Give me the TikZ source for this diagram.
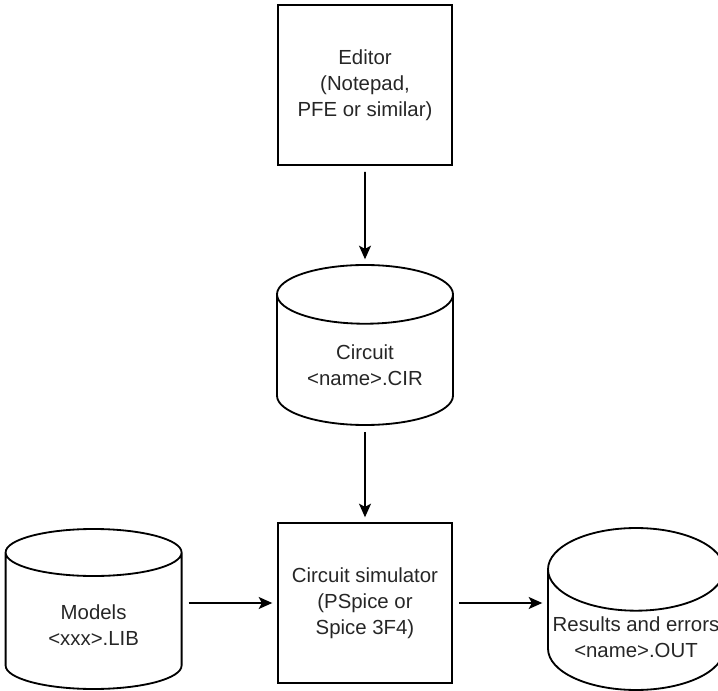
\documentclass[tikz,border=0pt]{standalone}
\usepackage{fontspec}
\setmainfont{Liberation Sans}
\usetikzlibrary{shapes.geometric,arrows.meta,positioning}

\begin{document}
\begin{tikzpicture}[line width=1.3pt,
    txt/.style={align=center, text=black!85, font=\fontsize{14.5}{18.5}\selectfont},
    box/.style={txt, draw, minimum width=4.35cm, minimum height=4cm},
    store/.style={txt, draw, cylinder, shape border rotate=90, aspect=0.47,
        minimum width=4.4cm, minimum height=4cm, anchor=shape center},
    flow/.style={-{Stealth[length=0.34cm, width=0.3cm, inset=0.08cm]},
        shorten <=0.15cm, shorten >=0.12cm}]
    \useasboundingbox (0,0) rectangle (17.95,17.25);

    % Editor und Schaltung
    \node[box] (editor) at (9.125,15.125) {Editor\\(Notepad,\\PFE or similar)};
    \node[store] (circuit) at (9.125,8.625) {Circuit\\<name>.CIR};

    % Simulator mit Bibliothek und Ausgabe
    \node[box] (sim) at (9.125,2.175) {Circuit simulator\\(PSpice or\\Spice 3F4)};
    \node[store] (models) at (2.34,2.025) {Models\\<xxx>.LIB};
    \node[store] (results) at (15.9,2.025) {Results and errors\\<name>.OUT};

    % Verbindungen
    \draw[flow] (editor) -- (circuit);
    \draw[flow] (circuit) -- (sim);
    \draw[flow] (models.east |- sim.west) -- (sim.west);
    \draw[flow] (sim.east) -- (results.west |- sim.east);
\end{tikzpicture}
\end{document}
